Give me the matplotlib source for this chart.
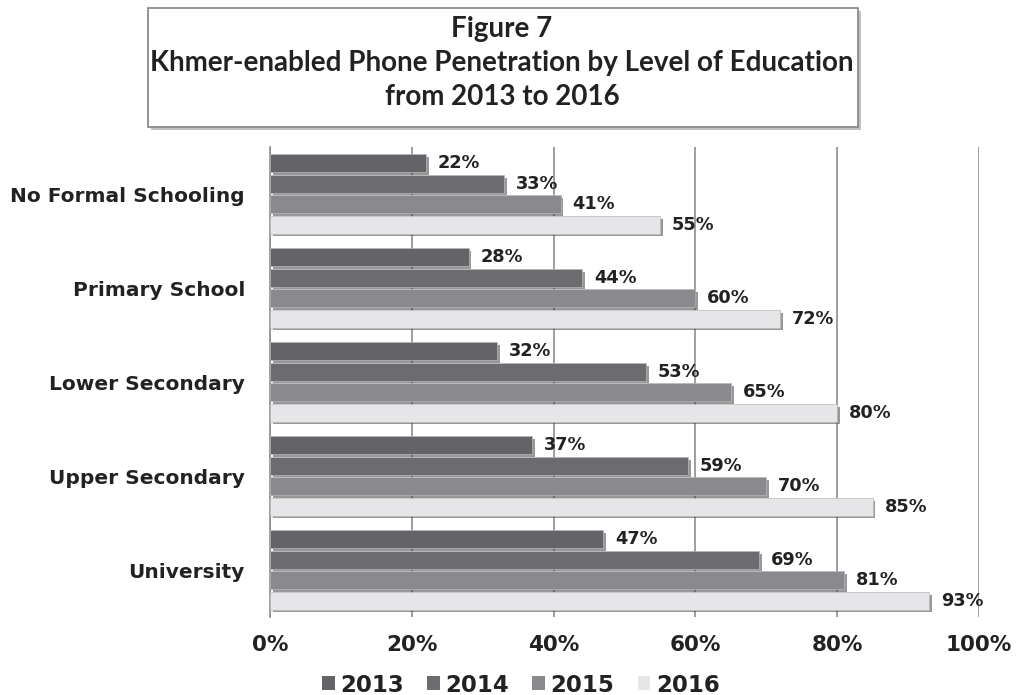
import matplotlib
matplotlib.use("Agg")
import matplotlib.pyplot as plt
import matplotlib.patheffects as pe
from matplotlib.patches import Rectangle, FancyBboxPatch
import numpy as np

categories = ["No Formal Schooling", "Primary School", "Lower Secondary",
              "Upper Secondary", "University"]
years = ["2013", "2014", "2015", "2016"]
v2013 = [22, 28, 32, 37, 47]
v2014 = [33, 44, 53, 59, 69]
v2015 = [41, 60, 65, 70, 81]
v2016 = [55, 72, 80, 85, 93]
series = [v2013, v2014, v2015, v2016]
colors = ["#646468", "#6c6c70", "#8a8a8e", "#e6e6e8"]
xticks = [0, 20, 40, 60, 80, 100]
xticklabels = ["0%", "20%", "40%", "60%", "80%", "100%"]

title_lines = "Figure 7\nKhmer-enabled Phone Penetration by Level of Education\nfrom 2013 to 2016"

fig = plt.figure(figsize=(10.16, 6.95), dpi=100)
ax = fig.add_axes([270/1016, 1-617/695, 709/1016, 470/695])

pitch = 0.218
height = 0.19
y = np.arange(len(categories))
shadow = [pe.SimplePatchShadow(offset=(2, -2), shadow_rgbFace="#444444", alpha=0.55), pe.Normal()]
for j, (vals, c) in enumerate(zip(series, colors)):
    pos = y + (j - 1.5) * pitch
    bars = ax.barh(pos, vals, height=height, color=c, edgecolor="#b8b8bc", linewidth=0.5,
                   zorder=3, label=years[j])
    for b in bars:
        b.set_path_effects(shadow)
    for p, v in zip(pos, vals):
        ax.annotate(f"{v}%", xy=(v, p), xytext=(8.5, 0), textcoords="offset points",
                    ha="left", va="center", fontsize=12.8, fontweight="bold",
                    color="#222222", zorder=4)

ax.set_xlim(0, 100)
ax.set_ylim(len(categories) - 0.5, -0.5)
ax.set_xticks(xticks)
ax.set_xticklabels(xticklabels)
ax.set_yticks(y)
ax.set_yticklabels(categories)
ax.tick_params(axis="x", length=0, pad=13, labelsize=15.5, labelcolor="#222222")
ax.tick_params(axis="y", length=0, pad=18, labelsize=14.5, labelcolor="#222222")
for lab in ax.get_xticklabels() + ax.get_yticklabels():
    lab.set_fontweight("bold")
ax.grid(axis="x", color="#8e8e8e", linewidth=1.2, zorder=0)
ax.set_axisbelow(True)
for s in ["top", "right", "bottom"]:
    ax.spines[s].set_visible(False)
ax.spines["left"].set_color("#8e8e8e")
ax.spines["left"].set_linewidth(1.2)

# title box
box = FancyBboxPatch((148/1016, 1-127/695), 710/1016, 119/695, boxstyle="square,pad=0",
                     transform=fig.transFigure, facecolor="white", edgecolor="#8a8a8a",
                     linewidth=1.3, path_effects=[pe.SimplePatchShadow(offset=(2, -2), shadow_rgbFace="#999999", alpha=0.6), pe.Normal()])
fig.add_artist(box)
fig.text(502/1016, 1-63/695, title_lines, ha="center", va="center", fontsize=20,
         fontweight="bold", family="Lato", color="#222222", linespacing=1.4)

handles = [Rectangle((0, 0), 1, 1, facecolor=c, edgecolor="none") for c in colors]
leg = fig.legend(handles, years, loc="center", bbox_to_anchor=(521/1016, 1-685/695),
                 ncol=4, frameon=False, handlelength=0.55, handleheight=0.55,
                 handletextpad=0.25, columnspacing=1.0,
                 prop={"size": 16.5, "weight": "bold"})
for t in leg.get_texts():
    t.set_color("#222222")

fig.savefig("out.png", dpi=100)
